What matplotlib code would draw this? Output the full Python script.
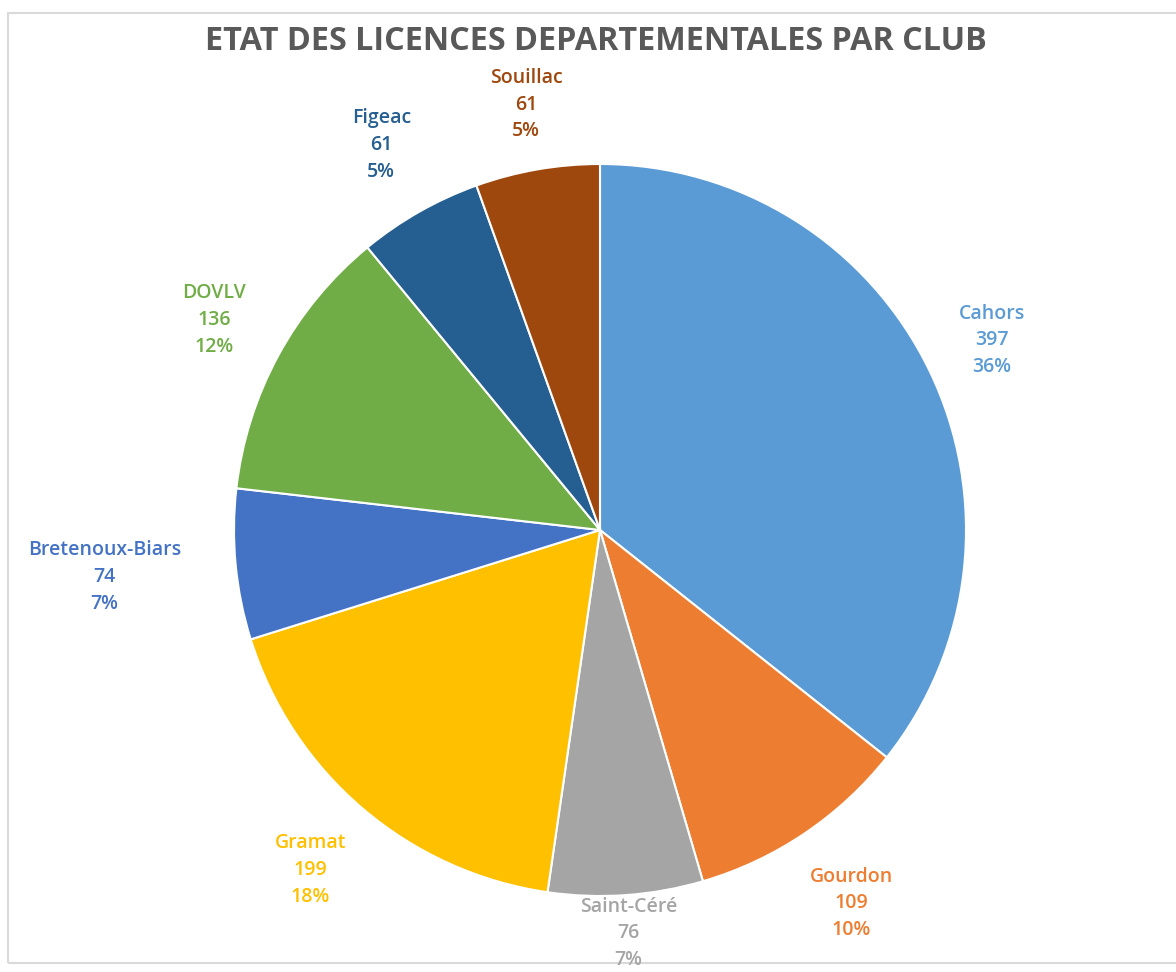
import numpy as np
import matplotlib
matplotlib.use("Agg")
import matplotlib.pyplot as plt
from matplotlib.patches import Rectangle

clubs = ["Cahors", "Gourdon", "Saint-Céré", "Gramat", "Bretenoux-Biars", "DOVLV", "Figeac", "Souillac"]
licences = [397, 109, 76, 199, 74, 136, 61, 61]
colors = ["#5B9BD5", "#ED7D31", "#A5A5A5", "#FFC000", "#4472C4", "#70AD47", "#255E91", "#9E480E"]
label_dist = [1.19, 1.23, 1.105, 1.22, 1.36, 1.20, 1.21, 1.18]

plt.rcParams['font.family'] = ['Open Sans', 'DejaVu Sans']

W, H = 1176, 972
cx, cy, r = 600, 442, 366  # pie centre (from bottom) and radius in pixels

fig = plt.figure(figsize=(W / 100, H / 100), dpi=100)
fig.patches.append(Rectangle((8 / W, 9 / H), 1.2, 950 / H, transform=fig.transFigure,
                             fill=False, edgecolor="#D9D9D9", linewidth=1.5, zorder=-1))

ax = fig.add_axes([0, 0, 1, 1])
ax.patch.set_alpha(0)

wedges, _ = ax.pie(licences, colors=colors, startangle=90, counterclock=False,
                   wedgeprops=dict(edgecolor="white", linewidth=1.5))
ax.set_aspect("auto")
ax.set_xlim(-cx / r, (W - cx) / r)
ax.set_ylim(-cy / r, (H - cy) / r)
ax.axis("off")

total = sum(licences)
for w, name, val, col, d in zip(wedges, clubs, licences, colors, label_dist):
    mid = np.deg2rad((w.theta1 + w.theta2) / 2)
    pct = round(100 * val / total)
    ax.text(d * np.cos(mid), d * np.sin(mid), f"{name}\n{val}\n{pct}%",
            ha="center", va="center", color=col, fontsize=14, fontweight="semibold",
            linespacing=1.45)

fig.text(596 / W, 1 - 42 / H, "ETAT DES LICENCES DEPARTEMENTALES PAR CLUB",
         ha="center", va="center", fontsize=23.3, fontweight="bold", color="#595959")

fig.savefig("out.png", dpi=100)
